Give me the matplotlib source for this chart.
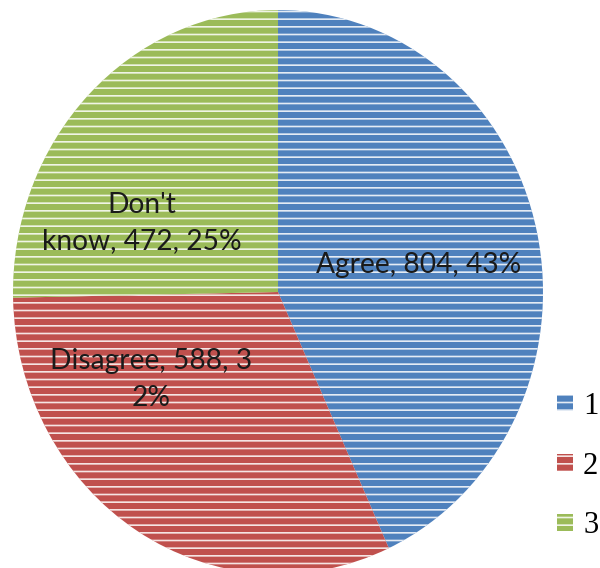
import matplotlib
matplotlib.use('Agg')
import matplotlib.pyplot as plt

# Survey answers
labels = ['Agree', 'Disagree', "Don't know"]
counts = [804, 588, 472]
percents = [43, 32, 25]
legend_labels = ['1', '2', '3']
colors = ['#4F81BD', '#C0504D', '#9BBB59']

# Excel-style data labels (text wraps inside the label box)
label_texts = ['Agree, 804, 43%', 'Disagree, 588, 3\n2%', "Don't\nknow, 472, 25%"]
label_pos = [(0.53, 0.095), (-0.48, -0.31), (-0.515, 0.245)]

plt.rcParams['hatch.linewidth'] = 1.3

DPI = 92
fig = plt.figure(figsize=(600 / DPI, 568 / DPI), dpi=DPI)
ax = fig.add_axes([13 / 600, -6 / 568, 530 / 600, 564 / 568])

wedges, _ = ax.pie(counts, colors=colors, startangle=90, counterclock=False,
                   wedgeprops=dict(edgecolor=(1, 1, 1, 0.85), linewidth=0, hatch='--'))
ax.set_aspect('auto')
ax.set_xlim(-1, 1)
ax.set_ylim(-1, 1)
ax.axis('off')

for txt, (x, y) in zip(label_texts, label_pos):
    ax.text(x, y, txt, ha='center', va='center', fontsize=22, family='Lato',
            color='#1a1a1a', linespacing=1.5)

fig.legend(wedges, legend_labels, loc='upper left', bbox_to_anchor=(557 / 600, 1 - 392 / 568),
           frameon=False, borderpad=0, borderaxespad=0, handlelength=0.52, handleheight=0.45,
           handletextpad=0.33, labelspacing=1.0, prop={'family': 'Liberation Serif', 'size': 24})

fig.savefig('out.png', dpi=DPI)
